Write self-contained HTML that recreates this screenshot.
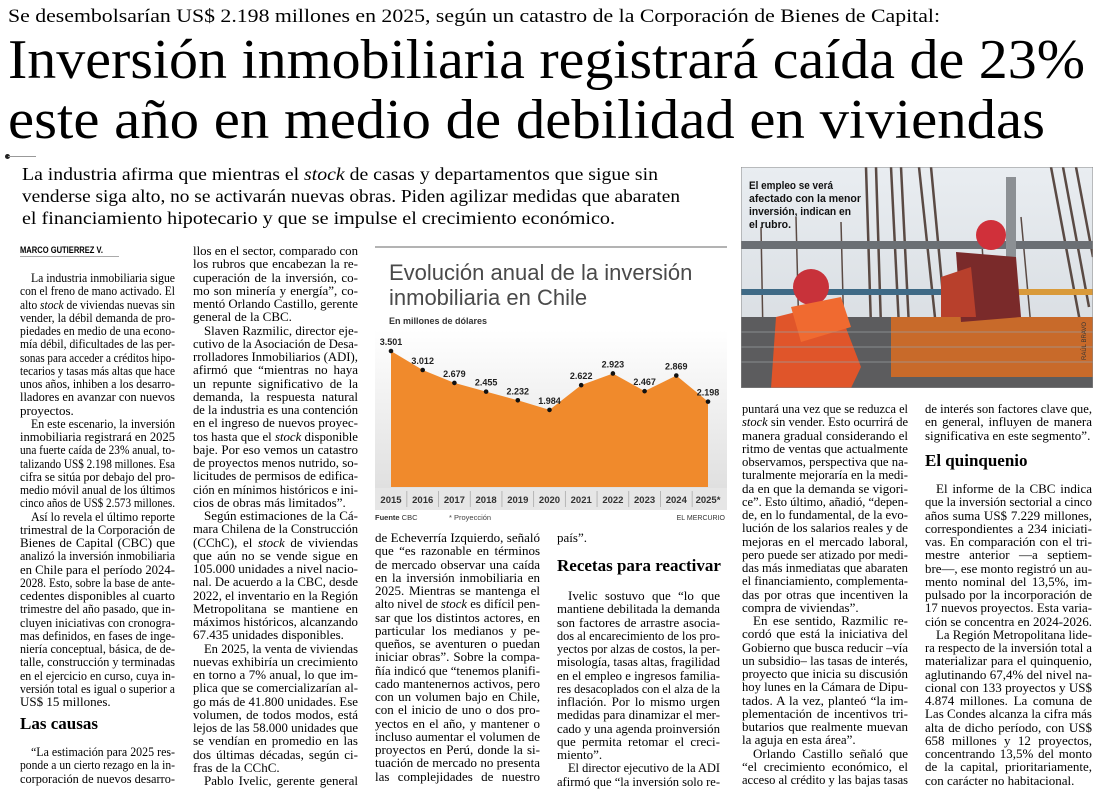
<!DOCTYPE html>
<html lang="es"><head><meta charset="utf-8">
<style>
html,body{margin:0;padding:0;background:#fff;}
body{width:1100px;height:797px;position:relative;overflow:hidden;font-family:"Liberation Serif",serif;color:#000;}
.abs{position:absolute;white-space:nowrap;}
.fit{transform-origin:left center;display:inline-block;}
.col{position:absolute;font-size:13px;line-height:13.25px;color:#000;}
.l{white-space:nowrap;height:13.25px;}
.l.i{padding-left:11px;}
.l span{display:inline-block;transform-origin:left center;}
.hd{position:absolute;font-weight:bold;font-size:17px;white-space:nowrap;}
</style></head><body>

<div class="abs" style="left:8px;top:5px;font-size:19px;line-height:24px;"><span class="fit" data-w="932">Se desembolsarían US$ 2.198 millones en 2025, según un catastro de la Corporación de Bienes de Capital:</span></div>
<div class="abs" style="left:8px;top:31px;font-size:56px;line-height:58px;"><span class="fit" data-w="1077">Inversión inmobiliaria registrará caída de 23%</span></div>
<div class="abs" style="left:8px;top:91px;font-size:56px;line-height:58px;"><span class="fit" data-w="1037">este año en medio de debilidad en viviendas</span></div>
<div class="abs" style="left:5px;top:154px;width:5px;height:5px;border-radius:50%;background:#222;"></div>
<div class="abs" style="left:8px;top:156px;width:28px;height:1px;background:#999;"></div>
<div class="abs" style="left:22px;top:163px;font-size:18px;line-height:22px;"><span class="fit" data-w="636">La industria afirma que mientras el <i>stock</i> de casas y departamentos que sigue sin</span></div>
<div class="abs" style="left:22px;top:185px;font-size:18px;line-height:22px;"><span class="fit" data-w="658">venderse siga alto, no se activarán nuevas obras. Piden agilizar medidas que abaraten</span></div>
<div class="abs" style="left:22px;top:207px;font-size:18px;line-height:22px;"><span class="fit" data-w="593">el financiamiento hipotecario y que se impulse el crecimiento económico.</span></div>

<div class="abs" style="left:20px;top:244px;font-family:'Liberation Sans',sans-serif;font-weight:bold;font-size:9px;line-height:12px;border-bottom:1px solid #aaa;"><span class="fit" data-w="83">MARCO GUTIERREZ V.</span></div>

<!-- column 1 -->
<div class="col" style="left:20px;top:271px;width:155px;">
<div class="l i">La industria inmobiliaria sigue</div>
<div class="l">con el freno de mano activado. El</div>
<div class="l">alto <i>stock</i> de viviendas nuevas sin</div>
<div class="l">vender, la débil demanda de pro-</div>
<div class="l">piedades en medio de una econo-</div>
<div class="l">mía débil, dificultades de las per-</div>
<div class="l">sonas para acceder a créditos hipo-</div>
<div class="l">tecarios y tasas más altas que hace</div>
<div class="l">unos años, inhiben a los desarro-</div>
<div class="l">lladores en avanzar con nuevos</div>
<div class="l e">proyectos.</div>
<div class="l i">En este escenario, la inversión</div>
<div class="l">inmobiliaria registrará en 2025</div>
<div class="l">una fuerte caída de 23% anual, to-</div>
<div class="l">talizando US$ 2.198 millones. Esa</div>
<div class="l">cifra se sitúa por debajo del pro-</div>
<div class="l">medio móvil anual de los últimos</div>
<div class="l">cinco años de US$ 2.573 millones.</div>
<div class="l i">Así lo revela el último reporte</div>
<div class="l">trimestral de la Corporación de</div>
<div class="l">Bienes de Capital (CBC) que</div>
<div class="l">analizó la inversión inmobiliaria</div>
<div class="l">en Chile para el período 2024-</div>
<div class="l">2028. Esto, sobre la base de ante-</div>
<div class="l">cedentes disponibles al cuarto</div>
<div class="l">trimestre del año pasado, que in-</div>
<div class="l">cluyen iniciativas con cronogra-</div>
<div class="l">mas definidos, en fases de inge-</div>
<div class="l">niería conceptual, básica, de de-</div>
<div class="l">talle, construcción y terminadas</div>
<div class="l">en el ejercicio en curso, cuya in-</div>
<div class="l">versión total es igual o superior a</div>
<div class="l e">US$ 15 millones.</div>
</div>
<div class="hd" style="left:20px;top:714px;">Las causas</div>
<div class="col" style="left:20px;top:745px;width:155px;">
<div class="l i">“La estimación para 2025 res-</div>
<div class="l">ponde a un cierto rezago en la in-</div>
<div class="l">corporación de nuevos desarro-</div>
</div>

<!-- column 2 -->
<div class="col" style="left:193px;top:244px;width:165px;">
<div class="l">llos en el sector, comparado con</div>
<div class="l">los rubros que encabezan la re-</div>
<div class="l">cuperación de la inversión, co-</div>
<div class="l">mo son minería y energía”, co-</div>
<div class="l">mentó Orlando Castillo, gerente</div>
<div class="l e">general de la CBC.</div>
<div class="l i">Slaven Razmilic, director eje-</div>
<div class="l">cutivo de la Asociación de Desa-</div>
<div class="l">rrolladores Inmobiliarios (ADI),</div>
<div class="l">afirmó que “mientras no haya</div>
<div class="l">un repunte significativo de la</div>
<div class="l">demanda, la respuesta natural</div>
<div class="l">de la industria es una contención</div>
<div class="l">en el ingreso de nuevos proyec-</div>
<div class="l">tos hasta que el <i>stock</i> disponible</div>
<div class="l">baje. Por eso vemos un catastro</div>
<div class="l">de proyectos menos nutrido, so-</div>
<div class="l">licitudes de permisos de edifica-</div>
<div class="l">ción en mínimos históricos e ini-</div>
<div class="l e">cios de obras más limitados”.</div>
<div class="l i">Según estimaciones de la Cá-</div>
<div class="l">mara Chilena de la Construcción</div>
<div class="l">(CChC), el <i>stock</i> de viviendas</div>
<div class="l">que aún no se vende sigue en</div>
<div class="l">105.000 unidades a nivel nacio-</div>
<div class="l">nal. De acuerdo a la CBC, desde</div>
<div class="l">2022, el inventario en la Región</div>
<div class="l">Metropolitana se mantiene en</div>
<div class="l">máximos históricos, alcanzando</div>
<div class="l e">67.435 unidades disponibles.</div>
<div class="l i">En 2025, la venta de viviendas</div>
<div class="l">nuevas exhibiría un crecimiento</div>
<div class="l">en torno a 7% anual, lo que im-</div>
<div class="l">plica que se comercializarían al-</div>
<div class="l">go más de 41.800 unidades. Ese</div>
<div class="l">volumen, de todos modos, está</div>
<div class="l">lejos de las 58.000 unidades que</div>
<div class="l">se vendían en promedio en las</div>
<div class="l">dos últimas décadas, según ci-</div>
<div class="l e">fras de la CChC.</div>
<div class="l i">Pablo Ivelic, gerente general</div>
</div>

<!-- chart -->
<svg id="chart" style="position:absolute;left:375px;top:245px;" width="355" height="285" viewBox="0 0 355 285">
<defs><linearGradient id="bg" x1="0" y1="0" x2="0" y2="1"><stop offset="0" stop-color="#ffffff"/><stop offset="1" stop-color="#dcdcdc"/></linearGradient></defs>
<line x1="0" y1="2" x2="352" y2="2" stroke="#9a9a9a" stroke-width="1.5"/>
<text x="14" y="35" font-family="Liberation Sans, sans-serif" font-size="22" fill="#4a4a4a">Evolución anual de la inversión</text>
<text x="14" y="60" font-family="Liberation Sans, sans-serif" font-size="22" fill="#4a4a4a">inmobiliaria en Chile</text>
<text x="14" y="79" font-family="Liberation Sans, sans-serif" font-size="9" font-weight="bold" fill="#333">En millones de dólares</text>
<rect x="0" y="85" width="352" height="178" fill="url(#bg)"/>
<rect x="0" y="243" width="352" height="22" fill="#e6e6e6"/>
<g id="marks"></g>
<text x="0" y="275" font-family="Liberation Sans, sans-serif" font-size="7.5" fill="#333"><tspan font-weight="bold">Fuente</tspan> CBC</text>
<text x="74" y="275" font-family="Liberation Sans, sans-serif" font-size="7.5" fill="#444">* Proyección</text>
<text x="350" y="275" text-anchor="end" font-family="Liberation Sans, sans-serif" font-size="7" fill="#333">EL MERCURIO</text>
</svg>

<!-- column 3 -->
<div class="col" style="left:375px;top:531px;width:165px;line-height:13.4px;">
<div class="l">de Echeverría Izquierdo, señaló</div>
<div class="l">que “es razonable en términos</div>
<div class="l">de mercado observar una caída</div>
<div class="l">en la inversión inmobiliaria en</div>
<div class="l">2025. Mientras se mantenga el</div>
<div class="l">alto nivel de <i>stock</i> es difícil pen-</div>
<div class="l">sar que los distintos actores, en</div>
<div class="l">particular los medianos y pe-</div>
<div class="l">queños, se aventuren o puedan</div>
<div class="l">iniciar obras”. Sobre la compa-</div>
<div class="l">ñía indicó que “tenemos planifi-</div>
<div class="l">cado mantenernos activos, pero</div>
<div class="l">con un volumen bajo en Chile,</div>
<div class="l">con el inicio de uno o dos pro-</div>
<div class="l">yectos en el año, y mantener o</div>
<div class="l">incluso aumentar el volumen de</div>
<div class="l">proyectos en Perú, donde la si-</div>
<div class="l">tuación de mercado no presenta</div>
<div class="l">las complejidades de nuestro</div>
</div>

<!-- column 4 -->
<div class="col" style="left:557px;top:531px;width:163px;">
<div class="l e">país”.</div>
</div>
<div class="hd" style="left:557px;top:556px;">Recetas para reactivar</div>
<div class="col" style="left:557px;top:589px;width:163px;">
<div class="l i">Ivelic sostuvo que “lo que</div>
<div class="l">mantiene debilitada la demanda</div>
<div class="l">son factores de arrastre asocia-</div>
<div class="l">dos al encarecimiento de los pro-</div>
<div class="l">yectos por alzas de costos, la per-</div>
<div class="l">misología, tasas altas, fragilidad</div>
<div class="l">en el empleo e ingresos familia-</div>
<div class="l">res desacoplados con el alza de la</div>
<div class="l">inflación. Por lo mismo urgen</div>
<div class="l">medidas para dinamizar el mer-</div>
<div class="l">cado y una agenda proinversión</div>
<div class="l">que permita retomar el creci-</div>
<div class="l e">miento”.</div>
<div class="l i">El director ejecutivo de la ADI</div>
<div class="l">afirmó que “la inversión solo re-</div>
</div>

<!-- photo -->
<svg style="position:absolute;left:741px;top:167px;" width="352" height="221" viewBox="0 0 352 221">
<defs><linearGradient id="sky" x1="0" y1="0" x2="0" y2="1"><stop offset="0" stop-color="#e9edf1"/><stop offset="1" stop-color="#d4d9de"/></linearGradient></defs>
<rect width="352" height="221" fill="url(#sky)"/>
<g stroke="#5a4a44" stroke-width="2.5">
<line x1="125" y1="0" x2="130" y2="160"/><line x1="135" y1="0" x2="140" y2="160"/><line x1="150" y1="0" x2="158" y2="160"/><line x1="160" y1="0" x2="168" y2="160"/><line x1="178" y1="0" x2="195" y2="160"/><line x1="190" y1="0" x2="205" y2="160"/><line x1="310" y1="0" x2="340" y2="160"/><line x1="322" y1="0" x2="348" y2="140"/><line x1="335" y1="0" x2="352" y2="90"/>
<line x1="20" y1="60" x2="22" y2="170" stroke-width="1.5"/><line x1="55" y1="50" x2="58" y2="170" stroke-width="1.5"/><line x1="100" y1="55" x2="103" y2="170" stroke-width="1.5"/><line x1="240" y1="60" x2="246" y2="160" stroke-width="1.5"/><line x1="280" y1="50" x2="290" y2="160" stroke-width="1.5"/>
</g>
<rect x="0" y="74" width="352" height="8" fill="#6b6f74"/>
<rect x="265" y="10" width="10" height="211" fill="#8c9094"/>
<rect x="0" y="122" width="352" height="6" fill="#3f6a86"/>
<rect x="0" y="150" width="352" height="71" fill="#5c5c5e"/>
<rect x="150" y="150" width="202" height="60" fill="#c86a2a"/>
<rect x="210" y="122" width="142" height="6" fill="#d99a3a"/>
<circle cx="70" cy="120" r="18" fill="#c8323a"/>
<path d="M35 150 L95 135 L120 200 L110 221 L30 221 Z" fill="#e0552a"/>
<path d="M50 140 L100 130 L110 160 L60 175 Z" fill="#f06a30"/>
<circle cx="250" cy="68" r="15" fill="#d0303a"/>
<path d="M215 85 L275 90 L280 150 L220 155 Z" fill="#7a2a2a"/>
<path d="M200 110 L230 100 L235 150 L200 150 Z" fill="#b8402c"/>
<g stroke="#9aa0a4" stroke-width="1" opacity="0.7">
<line x1="0" y1="165" x2="352" y2="165"/><line x1="0" y1="180" x2="352" y2="180"/><line x1="0" y1="195" x2="352" y2="195"/>
</g>
<rect x="0" y="0" width="352" height="221" fill="none" stroke="#888" stroke-width="1"/>
<text x="8" y="22" font-family="Liberation Sans, sans-serif" font-weight="bold" font-size="11" fill="#111" textLength="84" lengthAdjust="spacingAndGlyphs">El empleo se verá</text>
<text x="8" y="35" font-family="Liberation Sans, sans-serif" font-weight="bold" font-size="11" fill="#111" textLength="112" lengthAdjust="spacingAndGlyphs">afectado con la menor</text>
<text x="8" y="48" font-family="Liberation Sans, sans-serif" font-weight="bold" font-size="11" fill="#111" textLength="102" lengthAdjust="spacingAndGlyphs">inversión, indican en</text>
<text x="8" y="61" font-family="Liberation Sans, sans-serif" font-weight="bold" font-size="11" fill="#111" textLength="42" lengthAdjust="spacingAndGlyphs">el rubro.</text>
</svg>
<div class="abs" style="left:1082px;top:360px;font-family:'Liberation Sans',sans-serif;font-size:6px;transform:rotate(-90deg);transform-origin:left top;color:#333;">RAÚL BRAVO</div>

<!-- column 5 -->
<div class="col" style="left:742px;top:402px;width:166px;line-height:13.24px;">
<div class="l">puntará una vez que se reduzca el</div>
<div class="l"><i>stock</i> sin vender. Esto ocurrirá de</div>
<div class="l">manera gradual considerando el</div>
<div class="l">ritmo de ventas que actualmente</div>
<div class="l">observamos, perspectiva que na-</div>
<div class="l">turalmente mejoraría en la medi-</div>
<div class="l">da en que la demanda se vigori-</div>
<div class="l">ce”. Esto último, añadió, “depen-</div>
<div class="l">de, en lo fundamental, de la evo-</div>
<div class="l">lución de los salarios reales y de</div>
<div class="l">mejoras en el mercado laboral,</div>
<div class="l">pero puede ser atizado por medi-</div>
<div class="l">das más inmediatas que abaraten</div>
<div class="l">el financiamiento, complementa-</div>
<div class="l">das por otras que incentiven la</div>
<div class="l e">compra de viviendas”.</div>
<div class="l i">En ese sentido, Razmilic re-</div>
<div class="l">cordó que está la iniciativa del</div>
<div class="l">Gobierno que busca reducir –vía</div>
<div class="l">un subsidio– las tasas de interés,</div>
<div class="l">proyecto que inicia su discusión</div>
<div class="l">hoy lunes en la Cámara de Dipu-</div>
<div class="l">tados. A la vez, planteó “la im-</div>
<div class="l">plementación de incentivos tri-</div>
<div class="l">butarios que realmente muevan</div>
<div class="l e">la aguja en esta área”.</div>
<div class="l i">Orlando Castillo señaló que</div>
<div class="l">“el crecimiento económico, el</div>
<div class="l">acceso al crédito y las bajas tasas</div>
</div>

<!-- column 6 -->
<div class="col" style="left:925px;top:402px;width:167px;">
<div class="l">de interés son factores clave que,</div>
<div class="l">en general, influyen de manera</div>
<div class="l e">significativa en este segmento”.</div>
</div>
<div class="hd" style="left:925px;top:451px;">El quinquenio</div>
<div class="col" style="left:925px;top:482px;width:167px;line-height:13.2px;">
<div class="l i">El informe de la CBC indica</div>
<div class="l">que la inversión sectorial a cinco</div>
<div class="l">años suma US$ 7.229 millones,</div>
<div class="l">correspondientes a 234 iniciati-</div>
<div class="l">vas. En comparación con el tri-</div>
<div class="l">mestre anterior —a septiem-</div>
<div class="l">bre—, ese monto registró un au-</div>
<div class="l">mento nominal del 13,5%, im-</div>
<div class="l">pulsado por la incorporación de</div>
<div class="l">17 nuevos proyectos. Esta varia-</div>
<div class="l e">ción se concentra en 2024-2026.</div>
<div class="l i">La Región Metropolitana lide-</div>
<div class="l">ra respecto de la inversión total a</div>
<div class="l">materializar para el quinquenio,</div>
<div class="l">aglutinando 67,4% del nivel na-</div>
<div class="l">cional con 133 proyectos y US$</div>
<div class="l">4.874 millones. La comuna de</div>
<div class="l">Las Condes alcanza la cifra más</div>
<div class="l">alta de dicho período, con US$</div>
<div class="l">658 millones y 12 proyectos,</div>
<div class="l">concentrando 13,5% del monto</div>
<div class="l">de la capital, prioritariamente,</div>
<div class="l e">con carácter no habitacional.</div>
</div>

<script>
const years = ["2015","2016","2017","2018","2019","2020","2021","2022","2023","2024","2025*"];
const values = [3501,3012,2679,2455,2232,1984,2622,2923,2467,2869,2198];
const valueLabels = ["3.501","3.012","2.679","2.455","2.232","1.984","2.622","2.923","2.467","2.869","2.198"];

(function(){
  const NS = "http://www.w3.org/2000/svg";
  const g = document.getElementById("marks");
  const x0 = 16, x1 = 333, base = 242, maxV = 3501, topY = 106;
  const xs = i => x0 + i * (x1 - x0) / (years.length - 1);
  const ys = v => base - v * (base - topY) / maxV;
  let d = "M" + xs(0) + "," + base;
  values.forEach((v,i)=>{ d += " L" + xs(i) + "," + ys(v); });
  d += " L" + xs(values.length-1) + "," + base + " Z";
  const area = document.createElementNS(NS,"path");
  area.setAttribute("d", d);
  area.setAttribute("fill", "#f08a2c");
  
  
  g.appendChild(area);
  values.forEach((v,i)=>{
    const c = document.createElementNS(NS,"circle");
    c.setAttribute("cx", xs(i)); c.setAttribute("cy", ys(v)); c.setAttribute("r", 2.3); c.setAttribute("fill","#111");
    
    
    g.appendChild(c);
    const t = document.createElementNS(NS,"text");
    t.setAttribute("x", xs(i)); t.setAttribute("y", ys(v) - 6);
    t.setAttribute("text-anchor","middle"); t.setAttribute("font-family","Liberation Sans, sans-serif");
    t.setAttribute("font-size","9"); t.setAttribute("font-weight","bold"); t.setAttribute("fill","#222");
    t.textContent = valueLabels[i];
    
    
    g.appendChild(t);
    const yl = document.createElementNS(NS,"text");
    yl.setAttribute("x", xs(i)); yl.setAttribute("y", 258);
    yl.setAttribute("text-anchor","middle"); yl.setAttribute("font-family","Liberation Sans, sans-serif");
    yl.setAttribute("font-size","9.5"); yl.setAttribute("font-weight","bold"); yl.setAttribute("fill","#333");
    yl.textContent = years[i];
    
    
    g.appendChild(yl);
    if (i > 0) {
      const s = document.createElementNS(NS,"line");
      const sx = (xs(i) + xs(i-1)) / 2;
      s.setAttribute("x1", sx); s.setAttribute("x2", sx); s.setAttribute("y1", 246); s.setAttribute("y2", 262);
      s.setAttribute("stroke","#aaa"); s.setAttribute("stroke-width","0.8");
      
      
      g.appendChild(s);
    }
  });
})();

document.querySelectorAll(".fit").forEach(el=>{
  const w = parseFloat(el.getAttribute("data-w"));
  const nw = el.getBoundingClientRect().width;
  if (nw > 0) el.style.transform = "scaleX(" + (w/nw) + ")";
});
document.querySelectorAll(".col").forEach(col=>{
  const W = col.clientWidth;
  col.querySelectorAll(".l").forEach(l=>{
    const span = document.createElement("span");
    while (l.firstChild) span.appendChild(l.firstChild);
    l.appendChild(span);
    const avail = W - (l.classList.contains("i") ? 11 : 0);
    const nw = span.getBoundingClientRect().width;
    if (nw > avail) {
      span.style.transform = "scaleX(" + (avail/nw) + ")";
    } else if (!l.classList.contains("e")) {
      const spaces = (span.textContent.match(/ /g) || []).length;
      if (spaces > 0) span.style.wordSpacing = ((avail - nw) / spaces) + "px";
    }
  });
});
</script>
</body></html>
